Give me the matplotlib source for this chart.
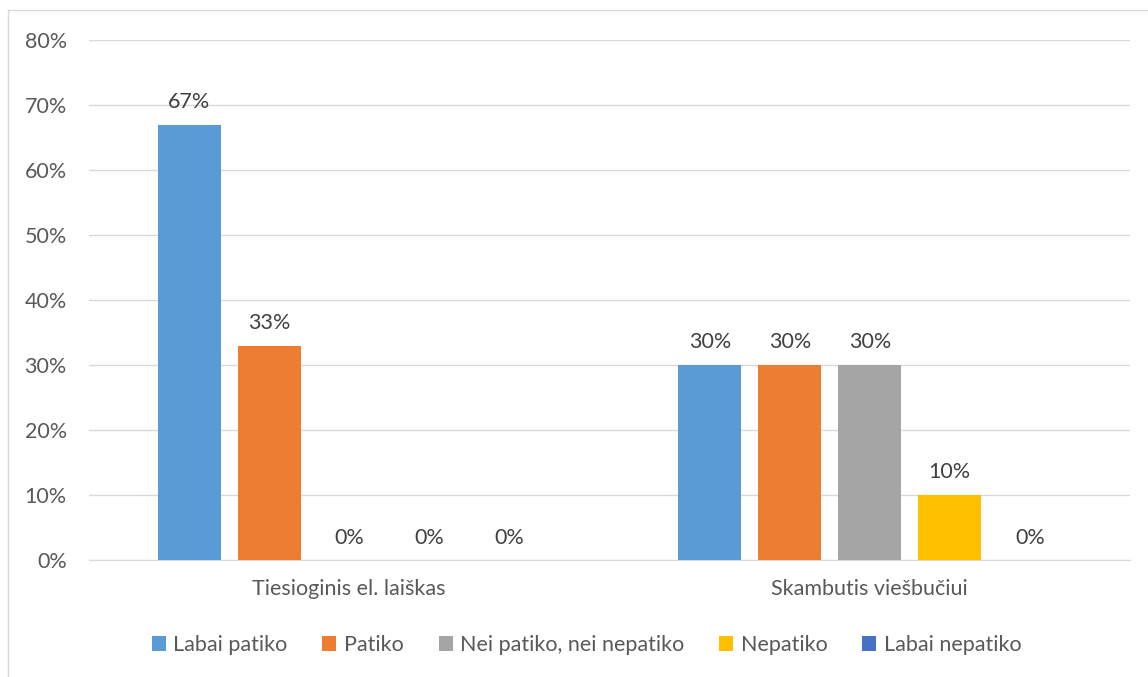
import matplotlib.pyplot as plt
from matplotlib.patches import Patch
from matplotlib.lines import Line2D

plt.rcParams['font.family'] = ['Lato', 'DejaVu Sans']

categories = ['Tiesioginis el. laiškas', 'Skambutis viešbučiui']
series_names = ['Labai patiko', 'Patiko', 'Nei patiko, nei nepatiko', 'Nepatiko', 'Labai nepatiko']
# percent per answer, one list per category
values = {
    'Labai patiko': [67, 30],
    'Patiko': [33, 30],
    'Nei patiko, nei nepatiko': [0, 30],
    'Nepatiko': [0, 10],
    'Labai nepatiko': [0, 0],
}
colors = ['#5B9BD5', '#ED7D31', '#A5A5A5', '#FFC000', '#4472C4']
yticks = [0, 10, 20, 30, 40, 50, 60, 70, 80]

text_col = '#595959'
fs = 15.5
fig = plt.figure(figsize=(11.48, 6.77), dpi=100)
ax = fig.add_axes([89/1148, 1 - 560/677, 1041/1148, 520/677])

width = 0.121
step = 0.1537
for i, name in enumerate(series_names):
    xs = [c + (i - 2) * step for c in range(len(categories))]
    bars = ax.bar(xs, values[name], width=width, color=colors[i], zorder=3)
    for b, v in zip(bars, values[name]):
        ax.annotate(f'{v}%', (b.get_x() + b.get_width() / 2, v),
                    xytext=(0, 9), textcoords='offset points',
                    ha='center', va='bottom', fontsize=fs, color='#404040')

ax.set_xlim(-0.5, 1.5)
ax.set_ylim(0, 80)
ax.set_yticks(yticks)
ax.set_yticklabels([f'{t}%' for t in yticks], fontsize=fs, color=text_col)
ax.set_xticks(range(len(categories)))
ax.set_xticklabels(categories, fontsize=fs, color=text_col)
ax.tick_params(axis='y', length=0, pad=16)
ax.tick_params(axis='x', length=0, pad=14)
ax.grid(axis='y', color='#D9D9D9', linewidth=1, zorder=0)
for s in ['top', 'right', 'left']:
    ax.spines[s].set_visible(False)
ax.spines['bottom'].set_color('#D9D9D9')

handles = [Patch(facecolor=c, edgecolor='none') for c in colors]
fig.legend(handles, series_names, loc='center', bbox_to_anchor=(0.511, 1 - 645/677),
           ncol=5, frameon=False, fontsize=fs, labelcolor=text_col,
           handlelength=0.65, handleheight=0.65, handletextpad=0.35, columnspacing=1.62)

# chart area border (left and top edges)
fig.add_artist(Line2D([8/1148, 8/1148], [0, 1 - 10/677], transform=fig.transFigure, color='#D9D9D9', lw=1))
fig.add_artist(Line2D([8/1148, 1], [1 - 10/677, 1 - 10/677], transform=fig.transFigure, color='#D9D9D9', lw=1))

fig.savefig('out.png', dpi=100)
